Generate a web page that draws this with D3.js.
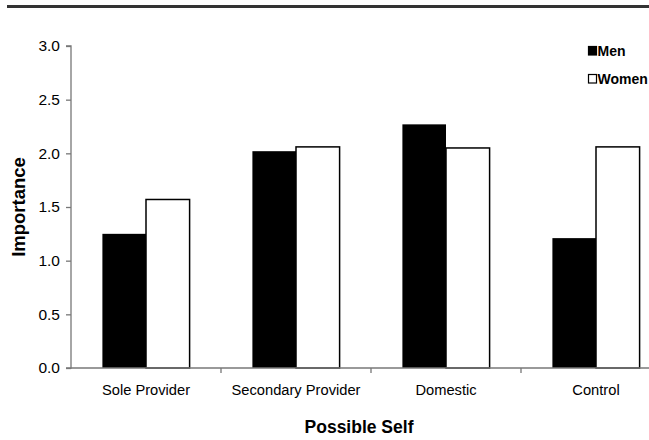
<!DOCTYPE html>
<html lang="en">
<head>
    <meta charset="UTF-8">
    <title>Importance by Possible Self</title>
    <style>
        body { margin: 0; background: #fff; }
        svg { display: block; font-family: "Liberation Sans", Arial, sans-serif; }
    </style>
</head>
<body>
    <svg id="chart" width="649" height="440"></svg>

    <script src="https://d3js.org/d3.v7.min.js"></script>
    <script>
        // data
        var categories = ["Sole Provider", "Secondary Provider", "Domestic", "Control"];
        var seriesNames = ["Men", "Women"];
        var menValues = [1.25, 2.02, 2.27, 1.21];
        var womenValues = [1.57, 2.06, 2.05, 2.06];
        var yTicks = [0, 0.5, 1.0, 1.5, 2.0, 2.5, 3.0];

        var svg = d3.select("#chart");

        // top rule
        svg.append("line")
            .attr("x1", 7).attr("x2", 649)
            .attr("y1", 6.5).attr("y2", 6.5)
            .attr("stroke", "#333").attr("stroke-width", 3);

        // plot box (right edge runs past the window, as in the original)
        var plotLeft = 71, plotRight = 671, plotTop = 46, plotBottom = 368;

        var x0 = d3.scaleBand().domain(categories).range([plotLeft, plotRight]).padding(0);
        var x1 = d3.scaleBand().domain(seriesNames).range([0, x0.bandwidth()])
            .paddingInner(0).paddingOuter(0.72);
        var y = d3.scaleLinear().domain([0, 3]).range([plotBottom, plotTop]);

        var rows = categories.map(function (c, i) {
            return { cat: c, Men: menValues[i], Women: womenValues[i] };
        });

        // bars
        var groups = svg.selectAll(".grp")
            .data(rows)
            .enter().append("g")
            .attr("class", "grp")
            .attr("transform", function (d) { return "translate(" + x0(d.cat) + ",0)"; });

        groups.selectAll("rect")
            .data(function (d) { return seriesNames.map(function (s) { return { s: s, v: d[s] }; }); })
            .enter().append("rect")
            .attr("x", function (d) { return x1(d.s); })
            .attr("y", function (d) { return y(d.v); })
            .attr("width", x1.bandwidth())
            .attr("height", function (d) { return plotBottom - y(d.v); })
            .attr("fill", function (d) { return d.s === "Men" ? "#000" : "#fff"; })
            .attr("stroke", "#000")
            .attr("stroke-width", function (d) { return d.s === "Men" ? 0 : 1.5; });

        // y axis
        var yAxis = svg.append("g")
            .attr("transform", "translate(" + plotLeft + ",0)")
            .call(d3.axisLeft(y).tickValues(yTicks).tickFormat(d3.format(".1f")).tickSize(5).tickPadding(6));
        yAxis.selectAll("path, line").attr("stroke", "#777").attr("stroke-width", 1.3);
        yAxis.select(".domain").attr("d", "M-5," + plotTop + "H0V" + plotBottom + "H-5");
        yAxis.selectAll("text").attr("font-size", 15.5).attr("fill", "#000")
            .attr("font-family", "Liberation Sans, Arial, sans-serif");

        // x axis
        var xAxis = svg.append("g")
            .attr("transform", "translate(0," + plotBottom + ")")
            .call(d3.axisBottom(x0).tickSize(0).tickPadding(17));
        xAxis.select(".domain").attr("stroke", "#777").attr("stroke-width", 1.3)
            .attr("d", "M" + plotLeft + ",0H" + plotRight);
        xAxis.selectAll("text").attr("font-size", 14.7).attr("fill", "#000")
            .attr("font-family", "Liberation Sans, Arial, sans-serif");

        // category separators
        xAxis.selectAll(".sep")
            .data(categories.slice(1))
            .enter().append("line")
            .attr("class", "sep")
            .attr("x1", function (d) { return x0(d); })
            .attr("x2", function (d) { return x0(d); })
            .attr("y1", 0).attr("y2", 5)
            .attr("stroke", "#777").attr("stroke-width", 1.3);

        // axis titles
        svg.append("text")
            .attr("transform", "translate(18," + ((plotTop + plotBottom) / 2) + ") rotate(-90)")
            .attr("text-anchor", "middle")
            .attr("dominant-baseline", "central")
            .attr("font-size", 18.5).attr("font-weight", "bold")
            .text("Importance");

        svg.append("text")
            .attr("x", 359).attr("y", 433)
            .attr("text-anchor", "middle")
            .attr("font-size", 17.5).attr("font-weight", "bold")
            .text("Possible Self");

        // legend
        var legend = svg.selectAll(".legend")
            .data(seriesNames)
            .enter().append("g")
            .attr("class", "legend")
            .attr("transform", function (d, i) { return "translate(588," + (46 + i * 28) + ")"; });

        legend.append("rect")
            .attr("x", 0.5).attr("y", 0.5)
            .attr("width", 8).attr("height", 8.5)
            .attr("fill", function (d) { return d === "Men" ? "#000" : "#fff"; })
            .attr("stroke", "#000").attr("stroke-width", 1.2);

        legend.append("text")
            .attr("x", 9.5).attr("y", 9.5)
            .attr("font-size", 14).attr("font-weight", "bold")
            .text(function (d) { return d; });
    </script>
</body>
</html>
